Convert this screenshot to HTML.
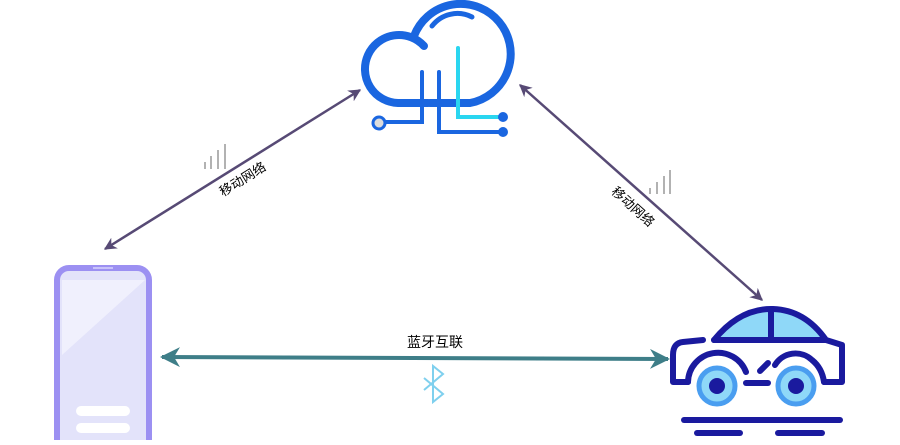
<!DOCTYPE html>
<html><head><meta charset="utf-8"><style>
body{margin:0;background:#fff;width:900px;height:440px;overflow:hidden;font-family:"Liberation Sans","Noto Sans CJK SC",sans-serif}
</style></head><body>
<svg width="900" height="440" viewBox="0 0 900 440" xmlns="http://www.w3.org/2000/svg">
<defs>
<marker id="ap" viewBox="0 0 10 10" refX="9" refY="5" markerWidth="5" markerHeight="5" orient="auto-start-reverse"><path d="M0,0 L10,5 L0,10 L3,5 z" fill="#574a75"/></marker>
<marker id="at" viewBox="0 0 10 10" refX="9" refY="5" markerWidth="5" markerHeight="5" orient="auto-start-reverse"><path d="M0,0 L10,5 L0,10 L3,5 z" fill="#3e7e88"/></marker>
</defs>
<line x1="105" y1="249" x2="360" y2="90" stroke="#574a75" stroke-width="2.5" marker-start="url(#ap)" marker-end="url(#ap)"/>
<line x1="520" y1="85" x2="762" y2="300" stroke="#574a75" stroke-width="2.5" marker-start="url(#ap)" marker-end="url(#ap)"/>
<line x1="162" y1="357" x2="668" y2="359" stroke="#3e7e88" stroke-width="4" marker-start="url(#at)" marker-end="url(#at)"/>
<g stroke="#999" stroke-width="1.5">
<line x1="205" y1="169" x2="205" y2="162"/><line x1="211" y1="169" x2="211" y2="156"/><line x1="218" y1="169" x2="218" y2="150"/><line x1="225" y1="169" x2="225" y2="144"/>
<line x1="650" y1="194" x2="650" y2="188"/><line x1="657" y1="194" x2="657" y2="182"/><line x1="664" y1="194" x2="664" y2="176"/><line x1="670" y1="194" x2="670" y2="170"/>
</g>
<text x="245" y="183" font-size="13" text-anchor="middle" transform="rotate(-32 245 183)">移动网络</text>
<text x="630" y="210" font-size="13" text-anchor="middle" transform="rotate(42 630 210)">移动网络</text>
<text x="435" y="347" font-size="14" text-anchor="middle">蓝牙互联</text>
<path d="M424,378 L443,394 L433,402 L433,366 L443,374 L424,390" fill="none" stroke="#7fd0ee" stroke-width="2"/>
<g fill="none" stroke-linecap="round">
<path d="M428,103 L398,103 A34,34 0 1 1 424,46" stroke="#1a66e0" stroke-width="8"/>
<path d="M414,36 A50,50 0 1 1 470,103 L430,103" stroke="#1a66e0" stroke-width="8"/>
<path d="M432,26 A32,32 0 0 1 472,17" stroke="#1a66e0" stroke-width="5"/>
<path d="M422,72 L422,122 L384,122" stroke="#1a66e0" stroke-width="4"/>
<path d="M439,72 L439,132 L502,132" stroke="#1a66e0" stroke-width="4"/>
<path d="M458,48 L458,117 L502,117" stroke="#2ad6f0" stroke-width="4"/>
</g>
<circle cx="379" cy="123" r="6" fill="#ddd" stroke="#1a66e0" stroke-width="3"/>
<circle cx="503" cy="117" r="5" fill="#1a66e0"/>
<circle cx="503" cy="132" r="5" fill="#1a66e0"/>
<rect x="57" y="268" width="92" height="190" rx="12" fill="#e3e3fa" stroke="#9c90f2" stroke-width="6"/>
<path d="M62,280 L145,280 L62,355 z" fill="#f0f0fd"/>
<line x1="93" y1="268" x2="113" y2="268" stroke="#c8c2fa" stroke-width="2"/>
<rect x="76" y="406" width="54" height="10" rx="5" fill="#fff"/>
<rect x="76" y="423" width="54" height="10" rx="5" fill="#fff"/>
<path d="M714,340 Q740,308 773,309 Q805,310 826,340 z" fill="#8fd8f8"/>
<g fill="none" stroke="#1a1a9e" stroke-width="6" stroke-linecap="round" stroke-linejoin="round">
<path d="M714,340 Q740,308 773,309 Q805,310 826,340 L842,345 L842,382 L824,382"/>
<path d="M714,340 L826,340"/>
<path d="M771,310 L771,340"/>
<path d="M703,340 L683,342 Q673,343 673,355 L673,382 L688,382"/>
<path d="M688,382 A30,30 0 0 1 746,372"/>
<path d="M746,383 L768,383"/>
<path d="M775,365 A24,24 0 0 1 812,360 Q822,368 824,382"/>
<path d="M760,371 L768,363"/>
<line x1="684" y1="420" x2="840" y2="420"/>
<line x1="697" y1="433" x2="740" y2="433"/>
<line x1="778" y1="433" x2="822" y2="433"/>
</g>
<circle cx="717" cy="386" r="18" fill="#8fd8f8" stroke="#4a9ef0" stroke-width="5"/>
<circle cx="717" cy="386" r="8" fill="#1a1a9e"/>
<circle cx="796" cy="386" r="18" fill="#8fd8f8" stroke="#4a9ef0" stroke-width="5"/>
<circle cx="796" cy="386" r="8" fill="#1a1a9e"/>
</svg>
</body></html>
